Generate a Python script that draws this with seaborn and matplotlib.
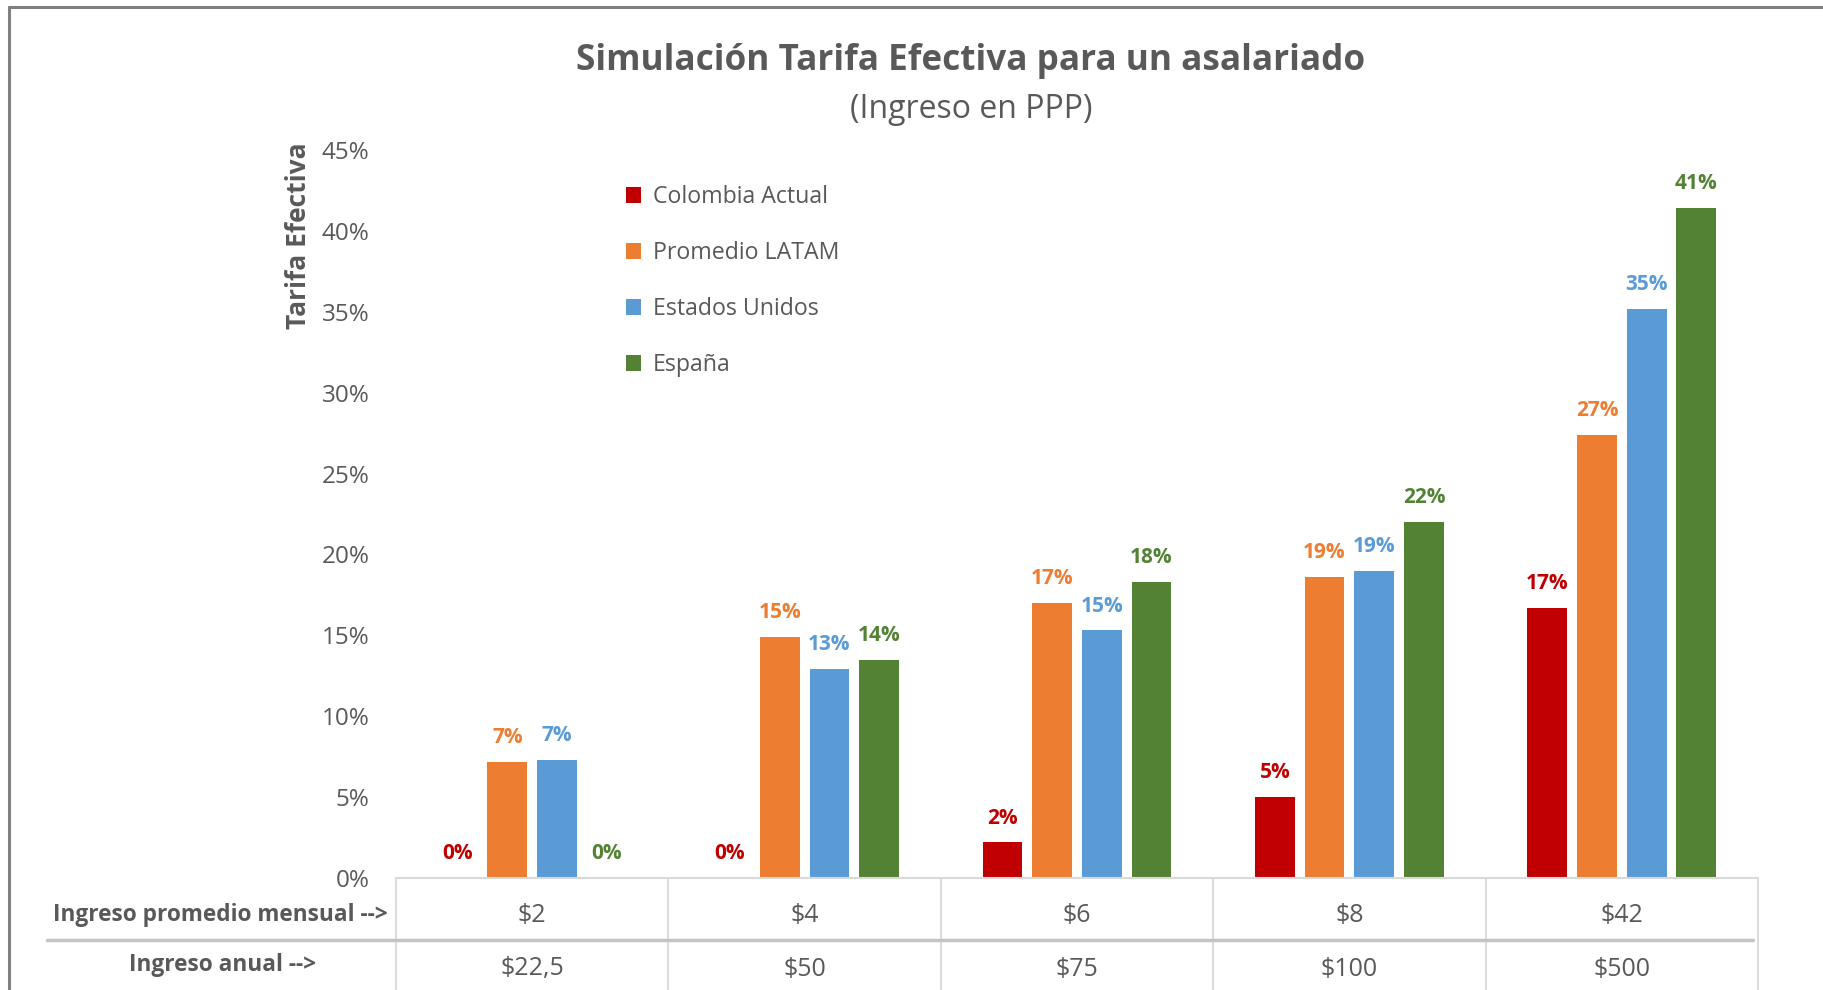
import numpy as np
import pandas as pd
import matplotlib
matplotlib.use("Agg")
import matplotlib.pyplot as plt
import seaborn as sns
from matplotlib.lines import Line2D
from matplotlib.patches import Patch
from matplotlib.transforms import blended_transform_factory

# ---- data ----
mensual = ["$2", "$4", "$6", "$8", "$42"]
anual = ["$22,5", "$50", "$75", "$100", "$500"]
series = ["Colombia Actual", "Promedio LATAM", "Estados Unidos", "España"]
colombia = [0.000, 0.000, 0.022, 0.050, 0.167]
latam = [0.072, 0.149, 0.170, 0.186, 0.274]
eeuu = [0.073, 0.129, 0.153, 0.190, 0.352]
espana = [0.000, 0.135, 0.183, 0.220, 0.414]
colors = ["#C00000", "#ED7D31", "#5B9BD5", "#548235"]

values = [colombia, latam, eeuu, espana]
df = pd.DataFrame({
    "mensual": np.tile(mensual, len(series)),
    "serie": np.repeat(series, len(mensual)),
    "tarifa": np.concatenate(values),
})

sns.set_theme(style="white")
FONT = ["Open Sans", "DejaVu Sans"]
plt.rcParams["font.family"] = FONT
GRAY = "#595959"

W, H = 1824, 990
fig = plt.figure(figsize=(W / 100, H / 100), dpi=100)
ax_left, ax_right = 396 / W, 1758 / W
ax_bottom = 1 - 878 / H
ax_top = 1 - 150 / H
ax = fig.add_axes([ax_left, ax_bottom, ax_right - ax_left, ax_top - ax_bottom])

sns.barplot(data=df, x="mensual", y="tarifa", hue="serie", order=mensual,
            hue_order=series, palette=colors, saturation=1, width=0.73,
            gap=0.2, linewidth=0, ax=ax, legend=False)

ax.set_ylim(0, 0.45)
ax.set_xlim(-0.5, len(mensual) - 0.5)
ax.set_yticks(np.arange(0, 0.451, 0.05))
ax.set_yticklabels([f"{int(round(t * 100))}%" for t in np.arange(0, 0.451, 0.05)],
                   fontsize=17.5, color=GRAY)
ax.tick_params(axis="y", length=0, pad=19)
ax.set_xticks([])
ax.set_xlabel("")
ax.set_ylabel("")
for s in ["top", "right", "left"]:
    ax.spines[s].set_visible(False)
ax.spines["bottom"].set_color("#d9d9d9")
ax.spines["bottom"].set_linewidth(1.5)
ax.grid(False)

# data labels
for cont, col in zip(ax.containers, colors):
    ax.bar_label(cont, labels=[f"{v * 100:.0f}%" for v in cont.datavalues],
                 padding=10, color=col, fontsize=15, fontweight="bold")

# titles
fig.text(971 / W, 1 - 61 / H, "Simulación Tarifa Efectiva para un asalariado",
         ha="center", va="center", fontsize=25.3, fontweight="bold", color=GRAY)
fig.text(971 / W, 1 - 109 / H, "(Ingreso en PPP)", ha="center", va="center",
         fontsize=23, color=GRAY)
fig.text(299 / W, 1 - 236 / H, "Tarifa Efectiva", ha="center", va="center",
         rotation=90, fontsize=19, fontweight="bold", color=GRAY)

# legend
handles = [Patch(facecolor=c, edgecolor="none") for c in colors]
ax.legend(handles, series, loc="upper left",
          bbox_to_anchor=(626 / W, 1 - 185 / H), bbox_transform=fig.transFigure,
          frameon=False, borderpad=0, borderaxespad=0, fontsize=16.7,
          handlelength=0.65, handleheight=0.65, handletextpad=0.5,
          labelspacing=1.38, labelcolor=GRAY)

# table below the axis
tr = blended_transform_factory(ax.transData, fig.transFigure)
for i, (m, a) in enumerate(zip(mensual, anual)):
    ax.text(i, 1 - 915 / H, m, transform=tr, ha="center", va="center",
            fontsize=18, color=GRAY)
    ax.text(i, 1 - 969 / H, a, transform=tr, ha="center", va="center",
            fontsize=18, color=GRAY)
for b in np.arange(-0.5, len(mensual), 1.0):
    ax.add_line(Line2D([b, b], [1 - 878 / H, 0], transform=tr,
                       color="#d9d9d9", lw=1.3, clip_on=False))
fig.add_artist(Line2D([47 / W, 1753 / W], [1 - 940 / H, 1 - 940 / H],
                      color="#c4c4c4", lw=2.5))
fig.text(220 / W, 1 - 915 / H, "Ingreso promedio mensual -->", ha="center",
         va="center", fontsize=16.3, fontweight="bold", color=GRAY)
fig.text(223 / W, 1 - 965 / H, "Ingreso anual -->", ha="center",
         va="center", fontsize=16.3, fontweight="bold", color=GRAY)

# outer frame fragments
fig.add_artist(Line2D([9 / W, 1], [1 - 7 / H, 1 - 7 / H], color="#808080", lw=2.2))
fig.add_artist(Line2D([9 / W, 9 / W], [0, 1 - 7 / H], color="#808080", lw=2.2))

fig.savefig("out.png", dpi=100, facecolor="white")
